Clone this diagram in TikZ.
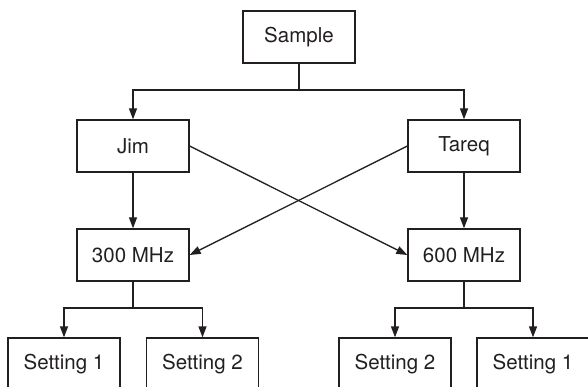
\documentclass[tikz,border=0pt]{standalone}
\usepackage{fontspec}
\setmainfont{TeX Gyre Heros}
\usetikzlibrary{arrows.meta}
\definecolor{ink}{HTML}{231F20}
\begin{document}
\begin{tikzpicture}[x=1pt,y=-1pt,
  box/.style={draw=ink, text=ink, line width=1.3pt, minimum width=112pt,
    minimum height=52pt, inner sep=0pt, font=\fontsize{20.5}{24}\selectfont},
  link/.style={draw=ink, line width=1.3pt},
  arr/.style={link, -{Triangle[length=11pt,width=8pt]}}]
\clip (0,0) rectangle (588,387);

% boxes
\node[box] (sample) at (299,37)  {Sample};
\node[box] (jim)    at (133,146) {Jim};
\node[box] (tareq)  at (464,146) {Tareq};
\node[box] (mhzA)   at (133,255) {300 MHz};
\node[box] (mhzB)   at (464,255) {600 MHz};
\node[box] (setA1)  at (64,364)  {Setting 1};
\node[box] (setA2)  at (202.5,364) {Setting 2};
\node[box] (setB2)  at (395,364) {Setting 2};
\node[box] (setB1)  at (533,364) {Setting 1};

% branch points
\coordinate (splitS) at (299,90);
\coordinate (splitA) at (133,308);
\coordinate (splitB) at (464,308);

% sample to operators
\draw[link] (sample.south) -- (splitS);
\draw[arr] (splitS) -| (jim.north);
\draw[arr] (splitS) -| (tareq.north);

% operators to spectrometers
\draw[arr] (jim.south) -- (mhzA.north);
\draw[arr] (tareq.south) -- (mhzB.north);
\draw[arr] (jim.east) -- (mhzB.west);
\draw[arr] (tareq.west) -- (mhzA.east);

% spectrometers to settings
\draw[link] (mhzA.south) -- (splitA);
\draw[arr] (splitA) -| (setA1.north);
\draw[arr] (splitA) -| (setA2.north);
\draw[link] (mhzB.south) -- (splitB);
\draw[arr] (splitB) -| (setB2.north);
\draw[arr] (splitB) -| (setB1.north);
\end{tikzpicture}
\end{document}
